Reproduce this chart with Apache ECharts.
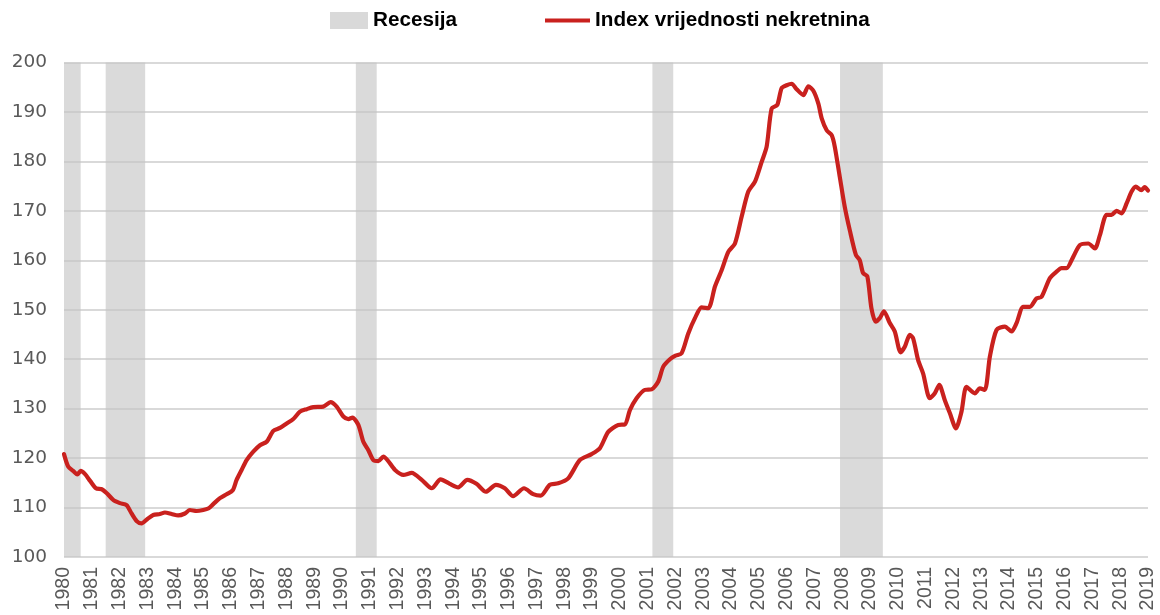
<!DOCTYPE html>
<html>
<head>
<meta charset="utf-8">
<script src="https://cdn.jsdelivr.net/npm/echarts@6/dist/echarts.min.js"></script>
<style>
html,body{margin:0;padding:0;background:#fff;}
#chart{width:1160px;height:615px;}
</style>
</head>
<body>
<div id="chart"></div>
<script>
// ---- data ----
const legendNames = ['Recesija', 'Index vrijednosti nekretnina'];

const dates = [
1980.0,1980.15,1980.33,1980.48,1980.6,1980.75,1980.94,1981.15,1981.36,1981.54,1981.78,
1982.01,1982.25,1982.43,1982.61,1982.79,1983.0,1983.21,1983.45,1983.63,1983.87,
1984.11,1984.35,1984.53,1984.77,1985.01,1985.19,1985.37,1985.61,1985.85,
1986.07,1986.21,1986.39,1986.57,1986.81,1987.05,1987.29,1987.53,1987.77,
1988.01,1988.25,1988.49,1988.73,1988.97,1989.33,1989.59,1989.81,
1990.05,1990.23,1990.38,1990.59,1990.77,1990.95,1991.13,1991.31,1991.49,1991.91,
1992.21,1992.51,1992.87,1993.23,1993.55,1993.88,1994.18,1994.51,1994.84,
1995.18,1995.54,1995.86,1996.16,1996.55,1996.88,1997.15,1997.48,1997.78,
1998.14,1998.56,1998.98,1999.28,1999.58,1999.94,2000.18,2000.36,2000.6,2000.9,
2001.14,2001.38,2001.56,2001.8,2002.0,2002.22,2002.46,2002.7,2002.94,
2003.18,2003.42,2003.66,2003.9,2004.14,2004.38,2004.62,2004.86,
2005.1,2005.28,2005.46,2005.66,2005.82,2006.0,2006.18,2006.36,2006.6,2006.78,2006.96,
2007.14,2007.26,2007.44,2007.62,2007.73,2007.91,2008.09,2008.27,2008.49,2008.63,2008.75,2008.9,
2009.05,2009.2,2009.35,2009.5,2009.71,2009.89,2010.1,2010.25,2010.43,2010.55,2010.73,2010.91,
2011.15,2011.33,2011.49,2011.69,2011.87,2012.09,2012.29,2012.47,2012.77,2012.95,
2013.13,2013.31,2013.55,2013.85,2014.09,2014.27,2014.51,2014.75,2014.99,
2015.17,2015.47,2015.71,2015.89,2016.07,2016.31,2016.55,2016.85,
2017.09,2017.27,2017.51,2017.69,2017.87,2018.05,2018.23,2018.41,2018.56,2018.76,2018.88,2019.0
];

const values = [
120.8,118.3,117.4,116.7,117.4,116.8,115.4,113.9,113.7,112.9,111.5,
110.9,110.5,108.8,107.3,106.8,107.7,108.5,108.7,109.0,108.7,
108.4,108.8,109.5,109.3,109.5,109.8,110.7,111.9,112.7,
113.5,115.6,117.6,119.6,121.3,122.6,123.3,125.5,126.1,
127.0,127.9,129.4,129.9,130.3,130.4,131.3,130.4,
128.4,127.9,128.2,126.7,123.3,121.6,119.6,119.4,120.3,117.6,
116.6,117.0,115.6,113.9,115.7,114.8,114.1,115.6,114.8,
113.2,114.6,113.9,112.3,113.9,112.7,112.4,114.6,114.9,
115.9,119.6,120.8,122.0,125.3,126.7,126.8,129.7,132.1,133.8,
133.9,135.5,138.5,140.0,140.7,141.2,145.2,148.3,150.5,
150.3,154.7,158.0,161.7,163.4,168.8,173.9,175.9,
179.9,183.0,190.7,191.4,194.8,195.4,195.7,194.6,193.4,195.2,194.3,
191.7,188.7,186.3,185.3,183.0,176.9,170.8,166.1,161.1,160.0,157.4,156.8,
150.3,147.6,148.3,149.7,147.3,145.6,141.4,142.5,144.9,144.2,139.8,137.1,
132.1,133.1,134.8,131.7,129.1,126.0,129.4,134.4,133.1,134.1,
133.8,140.5,145.9,146.6,145.6,147.3,150.6,150.6,152.3,
152.6,156.4,157.7,158.4,158.4,160.7,163.1,163.4,
162.4,165.1,169.2,169.2,170.0,169.5,171.5,173.9,174.9,174.2,174.8,174.1
];

const recessionStart = [1980.0, 1981.5, 1990.5, 2001.17, 2007.92];
const recessionEnd   = [1980.6, 1982.92, 1991.25, 2001.92, 2009.46];

const xMin = 1980, xMax = 2019, xStep = 1;
const yMin = 100, yMax = 200, yStep = 10;

// ---- chart ----
const chart = echarts.init(document.getElementById('chart'), null, {renderer: 'canvas'});

const lineData = dates.map((d, i) => [d, values[i]]);
const recAreas = recessionStart.map((s, i) => [{xAxis: s}, {xAxis: recessionEnd[i]}]);

const legendText = {color: '#000', fontSize: 20.7, fontWeight: 'bold', fontFamily: 'Liberation Sans, Arial, sans-serif'};

chart.setOption({
  animation: false,
  backgroundColor: '#fff',
  legend: [
    {
      data: [{name: legendNames[0], icon: 'rect', itemStyle: {color: '#d9d9d9'}}],
      left: 330, top: 10, padding: 0,
      itemWidth: 38, itemHeight: 17,
      textStyle: legendText,
      selectedMode: false
    },
    {
      data: [{name: legendNames[1], icon: 'path://M0,0 L45,0 L45,4 L0,4 Z'}],
      left: 545, top: 10, padding: 0,
      itemWidth: 45, itemHeight: 4.5,
      textStyle: legendText,
      selectedMode: false
    }
  ],
  grid: {left: 64, right: 12, top: 62.5, bottom: 58, containLabel: false},
  xAxis: {
    type: 'value',
    min: xMin, max: xMax, interval: xStep,
    axisLine: {show: false},
    axisTick: {show: false},
    splitLine: {show: false},
    axisLabel: {
      rotate: 90,
      margin: 10,
      color: '#595959',
      fontSize: 19.5,
      fontFamily: 'Liberation Sans, Arial, sans-serif',
      hideOverlap: false,
      showMinLabel: true,
      showMaxLabel: true,
      formatter: v => String(Math.round(v))
    }
  },
  yAxis: {
    type: 'value',
    min: yMin, max: yMax, interval: yStep,
    axisLine: {show: false},
    axisTick: {show: false},
    splitLine: {show: true, lineStyle: {color: '#d9d9d9', width: 2}},
    axisLabel: {
      margin: 17,
      color: '#595959',
      fontSize: 18.5,
      fontFamily: 'DejaVu Sans, sans-serif'
    }
  },
  series: [
    {
      name: legendNames[0],
      type: 'line',
      data: [],
      itemStyle: {color: '#d9d9d9'},
      markArea: {
        silent: true,
        itemStyle: {color: 'rgba(195,195,195,0.62)'},
        data: recAreas
      }
    },
    {
      name: legendNames[1],
      type: 'line',
      data: lineData,
      showSymbol: false,
      symbol: 'none',
      smooth: 0.25,
      itemStyle: {color: '#c9211e'},
      lineStyle: {color: '#c9211e', width: 4.2, cap: 'round', join: 'round'},
      z: 3
    }
  ]
});
</script>
</body>
</html>
